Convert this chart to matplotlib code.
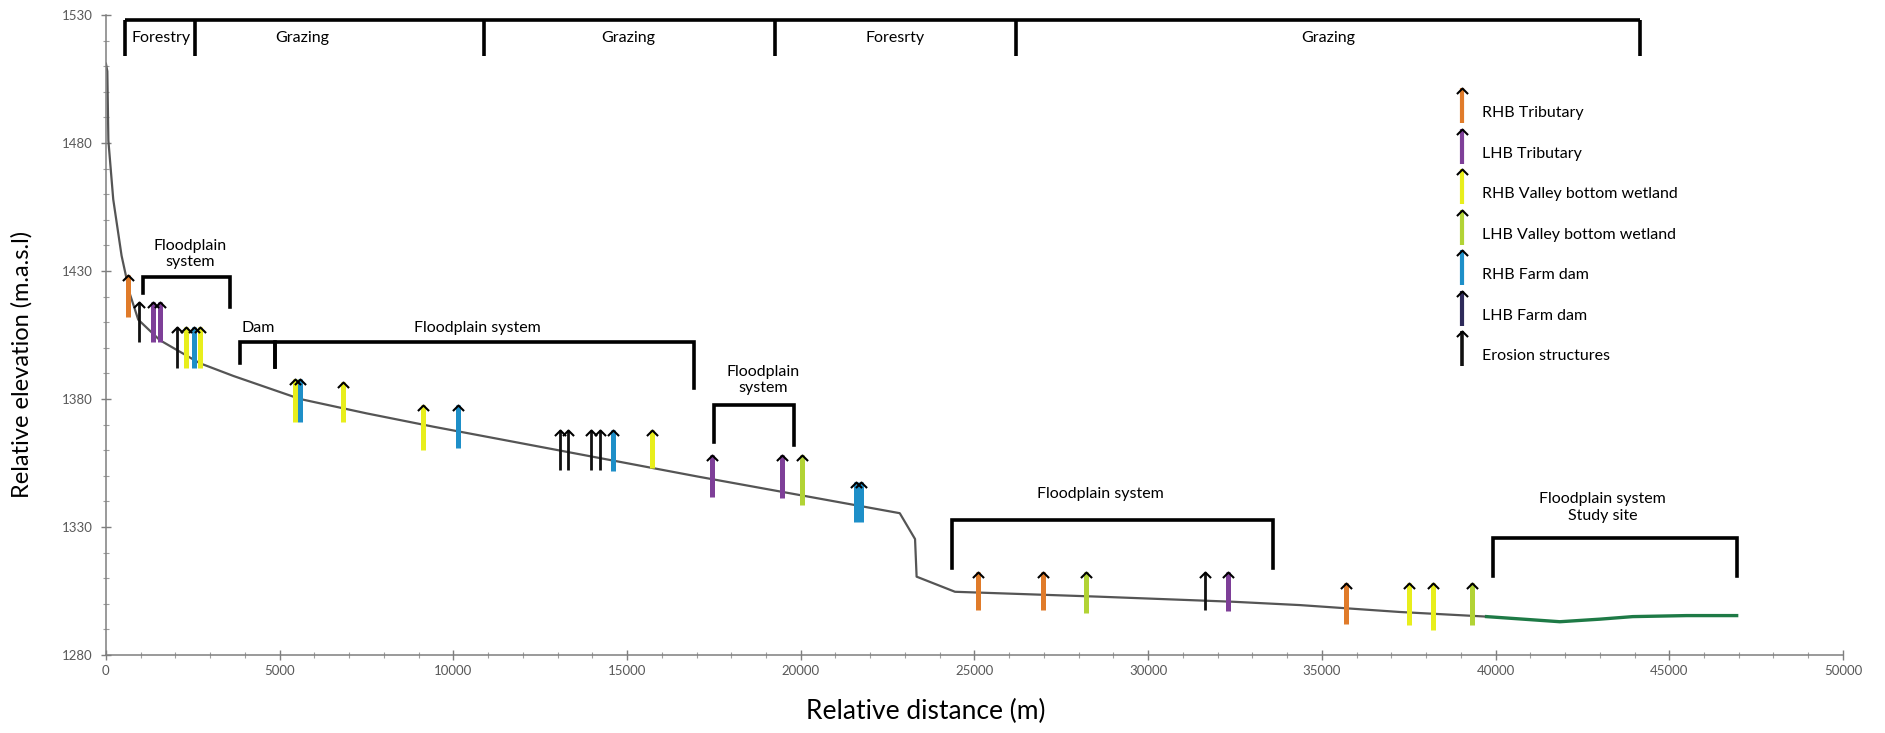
import matplotlib
matplotlib.use("Agg")
import matplotlib.pyplot as plt
from matplotlib.path import Path

plt.rcParams["font.family"] = ["Lato", "DejaVu Sans"]

# longitudinal river profile (distance m, elevation m.a.s.l)
profile_x = [0, 40, 70, 210, 450, 690, 930, 1550, 2700, 3670, 5590, 7500, 9420,
             11340, 17040, 22850, 23290, 23335, 24440, 28560, 32450, 34370, 37250, 39740]
profile_y = [1511, 1508, 1481, 1458, 1436, 1421, 1411, 1403, 1394, 1389, 1380, 1374.4, 1369.2,
             1364.3, 1349.7, 1335.4, 1325.3, 1310.6, 1304.7, 1302.8, 1300.8, 1299.5, 1296.8, 1295]
# study site reach
site_x = [39740, 40800, 41850, 43000, 43950, 45500, 46940]
site_y = [1295, 1294, 1293, 1294, 1295, 1295.4, 1295.4]

# arrows: position, shaft bottom, shaft top, type
arrow_x = [642, 960, 1362, 1554, 2035, 2303, 2533, 2700, 5440, 5585, 6831, 9134, 10141,
           13068, 13308, 13952, 14220, 14603, 15706, 17435, 19450, 20026, 21600, 21720,
           25109, 26963, 28200, 31635, 32306, 35690, 37516, 38207, 39311]
arrow_lo = [1412, 1402.4, 1402.4, 1402.4, 1392, 1392, 1392, 1392, 1371, 1371, 1371, 1360, 1360.7,
            1352.3, 1352.3, 1352.3, 1352.3, 1352, 1353, 1341.8, 1341.5, 1338.6, 1332, 1332,
            1297.6, 1297.6, 1296.3, 1297.6, 1297, 1292, 1291.7, 1289.8, 1291.7]
arrow_hi = [1428.4, 1418, 1418, 1418, 1408.2, 1408.2, 1408.2, 1408.2, 1388, 1388, 1386.8, 1377.7, 1377.7,
            1367.9, 1367.9, 1367.9, 1367.9, 1367.9, 1367.9, 1358, 1358, 1358, 1347.7, 1347.7,
            1312.5, 1312.5, 1312.5, 1312.5, 1312.5, 1308, 1308, 1308, 1308]
arrow_kind = ["rhb_trib", "erosion", "lhb_trib", "lhb_trib", "erosion", "rhb_vbw", "rhb_dam", "rhb_vbw",
              "rhb_vbw", "rhb_dam", "rhb_vbw", "rhb_vbw", "rhb_dam",
              "erosion", "erosion", "erosion", "erosion", "rhb_dam", "rhb_vbw",
              "lhb_trib", "lhb_trib", "lhb_vbw", "rhb_dam", "rhb_dam",
              "rhb_trib", "rhb_trib", "lhb_vbw", "erosion", "lhb_trib",
              "rhb_trib", "rhb_vbw", "rhb_vbw", "lhb_vbw"]

kinds = ["rhb_trib", "lhb_trib", "rhb_vbw", "lhb_vbw", "rhb_dam", "lhb_dam", "erosion"]
kind_labels = ["RHB Tributary", "LHB Tributary", "RHB Valley bottom wetland",
               "LHB Valley bottom wetland", "RHB Farm dam", "LHB Farm dam", "Erosion structures"]
kind_colors = ["#E07B2A", "#7E3F98", "#E8EE1C", "#B2D335", "#1E8FC8", "#2E2A5A", "#111111"]

# land use along the top
landuse_edges = [547, 2556, 10895, 19268, 26192, 44150]
landuse_labels = ["Forestry", "Grazing", "Grazing", "Foresrty", "Grazing"]
landuse_label_x = [1600, 5650, 15047, 22729, 35186]

# geomorphic units (brackets)
unit_left = [1066, 3857, 4865, 17500, 24343, 39931]
unit_right = [3574, 4865, 16915, 19804, 33600, 46955]
unit_top = [1427.8, 1402.4, 1402.4, 1377.7, 1332.7, 1325.6]
unit_leg_l = [1421.4, 1394, 1392.6, 1363.3, 1313.9, 1311]
unit_leg_r = [1416, 1392.6, 1384.3, 1362, 1313.9, 1311]
unit_labels = ["Floodplain\nsystem", "Dam", "Floodplain system", "Floodplain\nsystem",
               "Floodplain system", "Floodplain system\nStudy site"]
unit_label_x = [2418, 4384, 10700, 18920, 28613, 43085]
unit_label_y = [1436.5, 1407.6, 1407.7, 1387.5, 1343, 1337.6]

head = Path([(-1, -1), (0, 0), (1, -1)], [Path.MOVETO, Path.LINETO, Path.LINETO])


def draw_arrow(ax, x, lo, hi, color, lw, transform):
    ax.plot([x, x], [lo, hi], color=color, lw=lw, solid_capstyle="butt",
            transform=transform, zorder=3, clip_on=False)
    ax.plot([x], [hi], marker=head, ms=8, mfc="none", mec="black", mew=1.5,
            transform=transform, zorder=4, clip_on=False)


fig = plt.figure(figsize=(18.85, 7.33), dpi=100)
ax = fig.add_axes([0.0562, 0.1064, 0.9215, 0.8731])

ax.plot(profile_x, profile_y, color="#555555", lw=1.6, zorder=2)
ax.plot(site_x, site_y, color="#1E7A46", lw=2.4, zorder=2)

for x, lo, hi, k in zip(arrow_x, arrow_lo, arrow_hi, arrow_kind):
    i = kinds.index(k)
    lw = 2.0 if k == "erosion" else 3.6
    draw_arrow(ax, x, lo, hi, kind_colors[i], lw, ax.transData)

# land use bar
bar_kw = dict(color="black", lw=2.6, solid_capstyle="butt", zorder=3)
ax.plot([landuse_edges[0], landuse_edges[-1]], [1528, 1528], **bar_kw)
for e in landuse_edges:
    ax.plot([e, e], [1528, 1514], **bar_kw)
for lx, lab in zip(landuse_label_x, landuse_labels):
    ax.text(lx, 1521, lab, ha="center", va="center", fontsize=11.5)

# geomorphic brackets
for i in range(len(unit_left)):
    ax.plot([unit_left[i], unit_left[i], unit_right[i], unit_right[i]],
            [unit_leg_l[i], unit_top[i], unit_top[i], unit_leg_r[i]],
            color="black", lw=2.6, solid_joinstyle="miter", zorder=3)
    ax.text(unit_label_x[i], unit_label_y[i], unit_labels[i], ha="center", va="center",
            fontsize=11.5, linespacing=1.2)

# legend
for i, (lab, col) in enumerate(zip(kind_labels, kind_colors)):
    cy = 113.3 + i * 40.5
    lw = 2.6 if kinds[i] == "erosion" else 3.0
    draw_arrow(ax, 0.7805, (655 - (cy + 10)) / 640, (655 - (cy - 25)) / 640, col, lw, ax.transAxes)
    ax.text(0.7922, (655 - cy) / 640, lab, transform=ax.transAxes, ha="left", va="center", fontsize=11.5)

ax.set_xlim(0, 50000)
ax.set_ylim(1280, 1530)
ax.set_xticks(range(0, 50001, 5000))
ax.set_xticks(range(0, 50001, 1000), minor=True)
ax.set_yticks(range(1280, 1531, 50))
ax.set_yticks(range(1280, 1531, 10), minor=True)
for s in ["top", "right"]:
    ax.spines[s].set_visible(False)
for s in ["left", "bottom"]:
    ax.spines[s].set_color("#7f7f7f")
    ax.spines[s].set_linewidth(1.1)
ax.tick_params(which="major", direction="inout", length=7, width=1, color="#7f7f7f",
               labelsize=9.5, labelcolor="#595959")
ax.tick_params(which="minor", direction="inout", length=4, width=0.8, color="#9f9f9f")
ax.tick_params(axis="y", pad=6)

fig.text(0.0117, 0.503, "Relative elevation (m.a.s.l)", rotation=90, ha="center", va="center", fontsize=17)
fig.text(0.491, 0.0287, "Relative distance (m)", ha="center", va="center", fontsize=19)

fig.savefig("out.png", dpi=100)
